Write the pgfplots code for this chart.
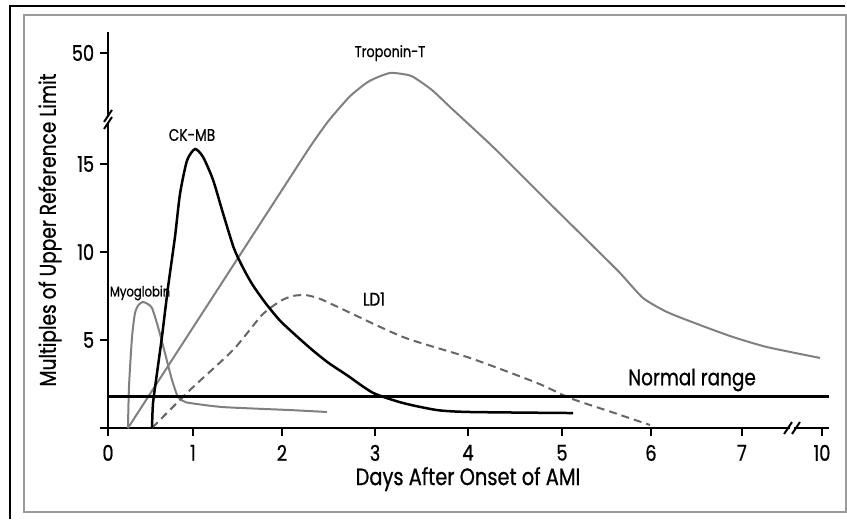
\documentclass[border=0pt]{standalone}
\usepackage{pgfplots}
\pgfplotsset{compat=1.18}
\usepackage{fontspec}
\setmainfont{Poppins}[FakeStretch=0.82, FakeBold=0.8]
\definecolor{curvegray}{HTML}{808080}
\definecolor{ldgray}{HTML}{666666}
\definecolor{framegray}{HTML}{9A9A9A}
\begin{document}
\begin{tikzpicture}
\begin{axis}[
  x=54pt, y=10.56pt,
  xmin=-0.089, xmax=8.011, ymin=-0.3, ymax=22.5,
  clip=false,
  axis lines=middle,
  axis line style={-, line width=1.5pt, black},
  hide obscured x ticks=false,
  hide obscured y ticks=false,
  tick align=outside,
  major tick length=4.8pt,
  tick style={line width=1.2pt, black},
  xtick={0,0.944,1.933,2.967,4.0,5.044,6.033,7.044,7.933},
  xticklabels={0,1,2,3,4,5,6,7,10},
  ytick={5,10,15,21.31},
  yticklabels={5,10,15,50},
  ticklabel style={font=\fontsize{13}{13}\selectfont},
  xticklabel style={yshift=-1.8pt},
  /pgf/number format/assume math mode=true,
]
% frames
\draw[framegray, line width=1.2pt] (axis cs:-0.933,23.466) rectangle (axis cs:8.2,-4.773);
\draw[black, line width=1.5pt] (axis cs:-1.089,-5.1705) -- (axis cs:-1.089,23.977) -- (axis cs:8.189,23.977);
\coordinate (bl) at (axis cs:-1.2,-5.1705);
\coordinate (tr) at (axis cs:8.2111,24.318);

% Troponin-T
\addplot[curvegray, line width=1.2pt, smooth, tension=0.35] coordinates {
(0.222,0) (0.8,4.57) (1.4,9.31) (1.9,13.26) (2.244,15.97) (2.45,17.45) (2.689,18.85) (2.9,19.7) (3.133,20.17) (3.37,20.0) (3.6,19.2) (3.8,18.24) (4.278,15.97) (4.9,12.8) (5.467,9.94) (5.689,8.81) (5.944,7.39) (6.211,6.59) (6.578,5.85) (6.944,5.17) (7.322,4.6) (7.911,3.98)};
% Myoglobin
\addplot[curvegray, line width=1.2pt, smooth, tension=0.4] coordinates {
(0.222,0) (0.233,2.33) (0.267,5.17) (0.30,6.53) (0.34,7.0) (0.389,7.16) (0.44,7.05) (0.489,6.82) (0.556,5.74) (0.633,4.26) (0.711,2.73) (0.778,1.76) (0.85,1.5) (0.911,1.42) (1.278,1.19) (2.022,1.02) (2.433,0.91)};
% LD1
\addplot[ldgray, line width=1.2pt, dash pattern=on 4.8pt off 3pt, smooth, tension=0.4] coordinates {
(0.489,0) (0.911,2.16) (1.389,4.43) (1.711,6.42) (1.911,7.2) (2.05,7.5) (2.2,7.55) (2.35,7.35) (2.544,6.9) (3.278,5.17) (4.022,3.98) (4.767,2.56) (5.133,1.7) (5.6,0.9) (6.022,0.17)};
% CK-MB
\addplot[black, line width=1.5pt, smooth, tension=0.4] coordinates {
(0.489,0) (0.5,1.4) (0.544,3.1) (0.6,5.2) (0.667,8.0) (0.744,10.85) (0.8,13.3) (0.878,15.2) (0.967,15.85) (1.056,15.4) (1.167,14.1) (1.278,12.2) (1.4,10.2) (1.511,9.0) (1.611,8.1) (1.75,7.1) (1.911,6.1) (2.1,5.2) (2.278,4.4) (2.45,3.7) (2.656,3.0) (2.944,2.0) (3.278,1.42) (3.656,1.02) (4.022,0.91) (5.167,0.85)};
% Normal range
\addplot[black, line width=1.5pt] coordinates {(0,1.8) (8.011,1.8)};

% axis breaks
\fill[white] (axis cs:-0.06,17.40) rectangle (axis cs:0.06,17.66);
\draw[black, line width=1.2pt] (axis cs:-0.044,16.99) -- (axis cs:0.044,17.67);
\draw[black, line width=1.2pt] (axis cs:-0.044,17.39) -- (axis cs:0.044,18.07);
\fill[white] (axis cs:7.575,-0.2) rectangle (axis cs:7.625,0.2);
\draw[black, line width=1.2pt] (axis cs:7.512,-0.34) -- (axis cs:7.60,0.34);
\draw[black, line width=1.2pt] (axis cs:7.60,-0.34) -- (axis cs:7.688,0.34);

% labels
\node[font=\fontsize{8.5}{8.5}\selectfont] at (axis cs:0.356,7.67) {Myoglobin};
\node[font=\fontsize{10}{10}\selectfont] at (axis cs:0.933,16.65) {CK-MB};
\node[font=\fontsize{9.4}{9.4}\selectfont] at (axis cs:3.133,21.3) {Troponin-T};
\node[font=\fontsize{11}{11}\selectfont] at (axis cs:2.956,7.33) {LD1};
\node[font=\fontsize{13.5}{13.5}\selectfont] at (axis cs:6.489,2.73) {Normal range};
\node[font=\fontsize{14.2}{14.2}\selectfont] at (axis cs:4.0,-2.9) {Days After Onset of AMI};
\node[font=\fontsize{13.6}{13.6}\selectfont, rotate=90] at (axis cs:-0.644,11.25) {Multiples of Upper Reference Limit};
\end{axis}
\pgfresetboundingbox
\useasboundingbox (bl) rectangle (tr);
\end{tikzpicture}
\end{document}
